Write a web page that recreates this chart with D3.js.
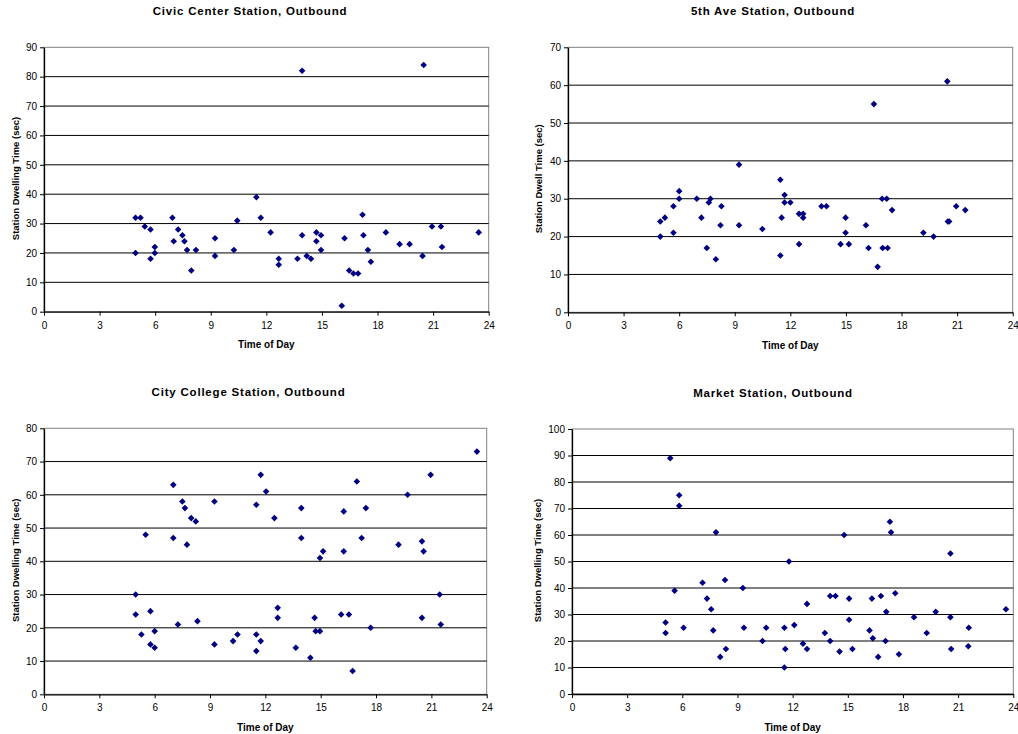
<!DOCTYPE html>
<html><head><meta charset="utf-8">
<script src="https://cdn.jsdelivr.net/npm/d3@7"></script>
<style>body{margin:0;background:#fff} svg{display:block}</style>
</head><body>
<svg id="chart" width="1018" height="734"></svg>
<script>
// ---------- data ----------
const hourTicks = [0, 3, 6, 9, 12, 15, 18, 21, 24];
const xAxisTitle = "Time of Day";

const civicTitle = "Civic Center Station, Outbound";
const civicYLabel = "Station Dwelling Time (sec)";
const civicTicks = [0, 10, 20, 30, 40, 50, 60, 70, 80, 90];
const civicHours = [4.94, 4.94, 5.21, 5.44, 5.75, 5.75, 5.98, 5.98, 6.93, 7.0, 7.24, 7.47, 7.58, 7.72, 7.95, 8.2, 9.23, 9.23, 10.25, 10.43, 11.46, 11.7, 12.23, 12.67, 12.67, 13.68, 13.93, 13.93, 14.18, 14.41, 14.7, 14.7, 14.95, 14.95, 16.07, 16.22, 16.47, 16.7, 16.95, 17.19, 17.24, 17.48, 17.64, 18.45, 19.19, 19.73, 20.43, 20.49, 20.94, 21.42, 21.48, 23.46];
const civicDwell = [32, 20, 32, 29, 28, 18, 22, 20, 32, 24, 28, 26, 24, 21, 14, 21, 25, 19, 21, 31, 39, 32, 27, 18, 16, 18, 26, 82, 19, 18, 27, 24, 26, 21, 2, 25, 14, 13, 13, 33, 26, 21, 17, 27, 23, 23, 19, 84, 29, 29, 22, 27];

const fifthTitle = "5th Ave Station, Outbound";
const fifthYLabel = "Station Dwell Time (sec)";
const fifthTicks = [0, 10, 20, 30, 40, 50, 60, 70];
const fifthHours = [4.98, 4.98, 5.23, 5.69, 5.69, 6.0, 6.0, 6.95, 7.2, 7.49, 7.6, 7.69, 7.98, 8.23, 8.28, 9.23, 9.23, 10.49, 11.46, 11.53, 11.46, 11.69, 11.69, 12.0, 12.47, 12.69, 12.69, 12.47, 13.68, 13.95, 14.71, 14.98, 14.98, 15.16, 16.08, 16.22, 16.51, 16.71, 16.98, 17.25, 16.95, 17.2, 17.49, 19.18, 19.73, 20.47, 20.5, 20.57, 20.95, 21.44];
const fifthDwell = [24, 20, 25, 28, 21, 32, 30, 30, 25, 17, 29, 30, 14, 23, 28, 39, 23, 22, 35, 25, 15, 31, 29, 29, 26, 26, 25, 18, 28, 28, 18, 25, 21, 18, 23, 17, 55, 12, 17, 17, 30, 30, 27, 21, 20, 61, 24, 24, 28, 27];

const collegeTitle = "City College Station, Outbound";
const collegeYLabel = "Station Dwelling Time (sec)";
const collegeTicks = [0, 10, 20, 30, 40, 50, 60, 70, 80];
const collegeHours = [4.97, 4.97, 5.28, 5.51, 5.77, 5.77, 6.0, 6.0, 7.01, 7.01, 7.26, 7.5, 7.64, 7.75, 7.98, 8.23, 8.32, 9.24, 9.24, 10.25, 10.49, 11.51, 11.51, 11.51, 11.75, 11.75, 12.04, 12.49, 12.67, 12.67, 13.65, 13.95, 13.95, 14.44, 14.67, 14.73, 14.96, 14.96, 15.13, 16.11, 16.25, 16.25, 16.53, 16.73, 16.96, 17.22, 17.45, 17.71, 19.22, 19.71, 20.49, 20.49, 20.58, 20.96, 21.45, 21.51, 23.47];
const collegeDwell = [30, 24, 18, 48, 25, 15, 19, 14, 63, 47, 21, 58, 56, 45, 53, 52, 22, 58, 15, 16, 18, 57, 18, 13, 66, 16, 61, 53, 26, 23, 14, 56, 47, 11, 23, 19, 19, 41, 43, 24, 55, 43, 24, 7, 64, 47, 56, 20, 45, 60, 46, 23, 43, 66, 30, 21, 73];

const marketTitle = "Market Station, Outbound";
const marketYLabel = "Station Dwelling Time (sec)";
const marketTicks = [0, 10, 20, 30, 40, 50, 60, 70, 80, 90, 100];
const marketHours = [5.09, 5.09, 5.34, 5.58, 5.83, 5.83, 6.07, 7.1, 7.34, 7.57, 7.68, 7.83, 8.06, 8.32, 8.37, 9.29, 9.35, 10.36, 10.56, 11.55, 11.6, 11.55, 11.8, 12.09, 12.56, 12.78, 12.78, 13.75, 14.04, 14.04, 14.33, 14.55, 14.8, 15.07, 15.07, 15.25, 16.18, 16.31, 16.36, 16.65, 16.8, 17.05, 17.09, 17.29, 17.35, 17.58, 17.78, 18.6, 19.29, 19.78, 20.58, 20.58, 20.62, 21.58, 21.55, 23.6];
const marketDwell = [27, 23, 89, 39, 75, 71, 25, 42, 36, 32, 24, 61, 14, 43, 17, 40, 25, 20, 25, 25, 17, 10, 50, 26, 19, 34, 17, 23, 37, 20, 37, 16, 60, 36, 28, 17, 24, 36, 21, 14, 37, 20, 31, 65, 61, 38, 15, 29, 23, 31, 53, 29, 17, 25, 18, 32];

// ---------- layout ----------
const panels = [
  {title: civicTitle, yLabel: civicYLabel, hours: civicHours, dwell: civicDwell, yTicks: civicTicks,
   l: 44, r: 488.7, t: 47.3, b: 311.7, titleX: 250, yLabX: 18.5},
  {title: fifthTitle, yLabel: fifthYLabel, hours: fifthHours, dwell: fifthDwell, yTicks: fifthTicks,
   l: 568, r: 1012.7, t: 47.3, b: 312.3, titleX: 773, yLabX: 541.5},
  {title: collegeTitle, yLabel: collegeYLabel, hours: collegeHours, dwell: collegeDwell, yTicks: collegeTicks,
   l: 44, r: 486.7, t: 428.3, b: 694.3, titleX: 248.5, yLabX: 18.5},
  {title: marketTitle, yLabel: marketYLabel, hours: marketHours, dwell: marketDwell, yTicks: marketTicks,
   l: 572, r: 1013.3, t: 429, b: 694, titleX: 773, yLabX: 540.5}
];

const FONT = "'Liberation Sans', Arial, Helvetica, sans-serif";
const svg = d3.select("#chart");
svg.append("rect").attr("width", 1018).attr("height", 734).attr("fill", "#fff");

const R = 3.3;
const diamond = `M0,${-R}L${R},0L0,${R}L${-R},0Z`;

panels.forEach(p => {
  const g = svg.append("g");
  const x = d3.scaleLinear().domain([0, 24]).range([p.l, p.r]);
  const yMax = d3.max(p.yTicks);
  const y = d3.scaleLinear().domain([0, yMax]).range([p.b, p.t]);

  g.append("rect")
    .attr("x", p.l).attr("y", p.t)
    .attr("width", p.r - p.l).attr("height", p.b - p.t)
    .attr("fill", "#fff").attr("stroke", "#808080").attr("stroke-width", 1);

  g.append("g").selectAll("line")
    .data(p.yTicks.filter(v => v > 0 && v < yMax))
    .join("line")
    .attr("x1", p.l).attr("x2", p.r)
    .attr("y1", d => y(d)).attr("y2", d => y(d))
    .attr("stroke", "#000").attr("stroke-width", 1);

  const ya = g.append("g")
    .attr("transform", `translate(${p.l},0)`)
    .call(d3.axisLeft(y).tickValues(p.yTicks).tickSize(4).tickSizeOuter(0).tickPadding(3));
  const xa = g.append("g")
    .attr("transform", `translate(0,${p.b})`)
    .call(d3.axisBottom(x).tickValues(hourTicks).tickSize(4).tickSizeOuter(0).tickPadding(6));
  [ya, xa].forEach(a => {
    a.selectAll("path.domain").attr("stroke", "#000").attr("stroke-width", 1.3);
    a.selectAll(".tick line").attr("stroke", "#000");
    a.selectAll("text").attr("font-family", FONT).attr("font-size", 10).attr("fill", "#000");
  });

  g.append("g").selectAll("path")
    .data(d3.zip(p.hours, p.dwell))
    .join("path")
    .attr("d", diamond)
    .attr("transform", d => `translate(${x(d[0])},${y(d[1])})`)
    .attr("fill", "#000080");

  g.append("text")
    .attr("x", p.titleX).attr("y", p.t - 32.5)
    .attr("text-anchor", "middle")
    .attr("font-family", FONT).attr("font-weight", "bold")
    .attr("font-size", 11.5).attr("letter-spacing", 0.8)
    .text(p.title);

  g.append("text")
    .attr("x", (p.l + p.r) / 2).attr("y", p.b + 36.5)
    .attr("text-anchor", "middle")
    .attr("font-family", FONT).attr("font-weight", "bold")
    .attr("font-size", 10)
    .text(xAxisTitle);

  g.append("text")
    .attr("transform", `translate(${p.yLabX},${(p.t + p.b) / 2 - 1}) rotate(-90)`)
    .attr("text-anchor", "middle")
    .attr("font-family", FONT).attr("font-weight", "bold")
    .attr("font-size", 9.5)
    .text(p.yLabel);
});
</script>
</body></html>
